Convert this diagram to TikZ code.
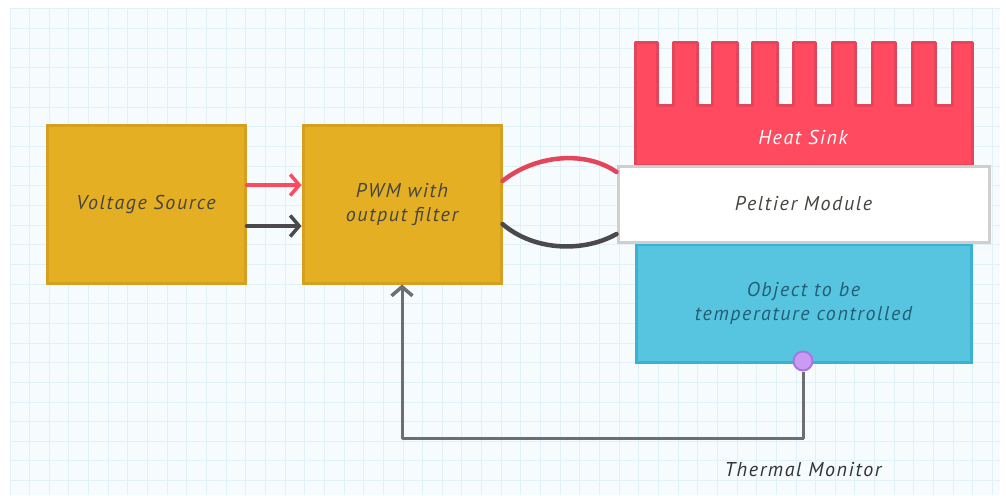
\documentclass[tikz,border=0pt]{standalone}
\usepackage{fontspec}
\setmainfont{PT Sans}
\usetikzlibrary{arrows.meta}
\definecolor{gridbg}{HTML}{F6FBFD}
\definecolor{gridln}{HTML}{E2F0F7}
\definecolor{gold}{HTML}{E4AF22}
\definecolor{goldd}{HTML}{D6A01E}
\definecolor{hred}{HTML}{FF4A5F}
\definecolor{hredd}{HTML}{E5455B}
\definecolor{oblue}{HTML}{57C5DF}
\definecolor{oblued}{HTML}{3AB2D2}
\definecolor{txt}{HTML}{464640}
\definecolor{otxt}{HTML}{235E78}
\definecolor{wgray}{HTML}{4A4A4C}
\definecolor{fgray}{HTML}{6E6E70}
\definecolor{pbord}{HTML}{CFCFCF}
\definecolor{purp}{HTML}{C99BF2}
\definecolor{purpd}{HTML}{A878E0}
\tikzset{
  x=1pt, y=-1pt,
  lbl/.style={font=\itshape\fontsize{20}{24}\selectfont\addfontfeature{LetterSpace=8}, align=center},
  goldbox/.style={draw=goldd, fill=gold, line width=3pt, minimum width=198pt, minimum height=158pt, lbl, text=txt},
  barb/.style={-{Straight Barb[length=9pt,width=21pt,line width=3.5pt]}},
  arr/.style={line width=3.5pt, barb, line cap=round},
  wire/.style={line width=4.5pt, line cap=round},
}
\begin{document}
\begin{tikzpicture}
\useasboundingbox (0,0) rectangle (1006,495);
\fill[white] (0,0) rectangle (1006,495);
\fill[gridbg] (10,9) rectangle (1000,495);
\foreach \i in {0,...,50} \draw[gridln, line width=1pt] ({10+19.65*\i},9) -- ({10+19.65*\i},495);
\foreach \j in {0,...,24} \draw[gridln, line width=1pt] (10,{9+19.65*\j}) -- (1000,{9+19.65*\j});

% boxes
\node[goldbox] (vs) at (146,204.5) {Voltage Source};
\node[goldbox] (pwm) at (402,204) {PWM with\\output filter};

% heat sink
\draw[hredd, fill=hred, line width=3pt, line join=round]
 (635,165) -- (635,43) -- (657,43) -- (657,105) -- (673,105) -- (673,43) -- (697,43) -- (697,105) -- (712,105) -- (712,43) -- (737,43) -- (737,105) -- (752,105) -- (752,43) -- (777,43) -- (777,105) -- (793,105) -- (793,43) -- (815,43) -- (815,105) -- (832,105) -- (832,43) -- (855,43) -- (855,105) -- (872,105) -- (872,43) -- (895,43) -- (895,105) -- (912,105) -- (912,43) -- (935,43) -- (935,105) -- (952,105) -- (952,43) -- (972,43) -- (972,165) -- cycle;
\node[lbl, text=white] (hs) at (803,137) {Heat Sink};

% object
\node[draw=oblued, fill=oblue, line width=3pt, minimum width=335pt, minimum height=118pt, lbl, text=otxt] (obj) at (803.5,303) {Object to be\\temperature controlled};

% peltier
\node[draw=pbord, fill=white, line width=3pt, minimum width=371pt, minimum height=76pt, lbl, text=txt] (pel) at (803.5,204) {Peltier Module};

% arrows
\draw[arr, hred] (vs.east |- 0,185) -- (pwm.west |- 0,185);
\draw[arr, wgray] (vs.east |- 0,226) -- (pwm.west |- 0,226);

% wires
\coordinate (rw1) at (pwm.east |- 0,181);
\coordinate (rw2) at (pel.west |- 0,172);
\coordinate (bw1) at (pwm.east |- 0,224);
\coordinate (bw2) at (pel.west |- 0,234);
\draw[wire, hredd] (rw1) .. controls (535,155) and (585,150) .. (rw2);
\draw[wire, wgray] (bw1) .. controls (535,252) and (585,252) .. (bw2);

% thermal monitor
\node[circle, draw=purpd, fill=purp, line width=2pt, minimum size=19pt, inner sep=0pt] (tm) at (803,361) {};
\coordinate (corner) at (803,438);
\draw[fgray, line width=3pt, barb, line join=round]
  (tm.south) -- (corner) -- (corner -| pwm.south) -- (pwm.south);
\node[lbl, text=black!80] (tml) at (803,470) {Thermal Monitor};
\end{tikzpicture}
\end{document}
